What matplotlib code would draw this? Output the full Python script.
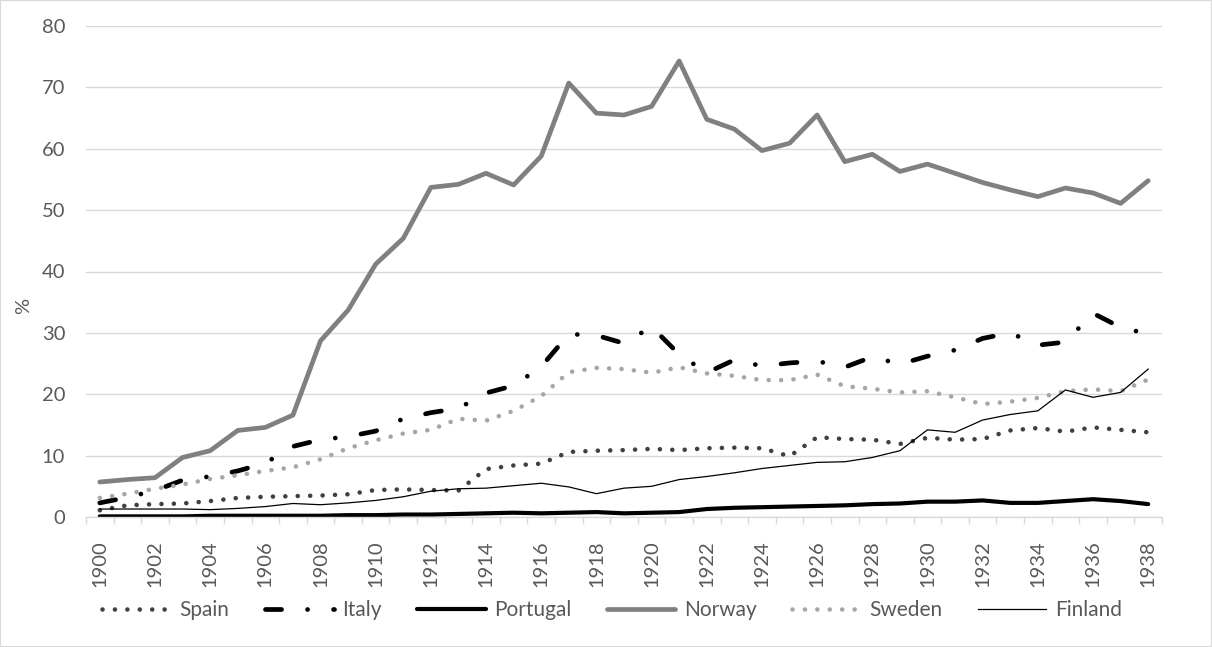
import numpy as np
import matplotlib.pyplot as plt
from matplotlib.patches import Rectangle

plt.rcParams['font.family'] = ['Lato', 'DejaVu Sans']

years = list(range(1900, 1939))

spain = [1.1, 1.9, 2.1, 2.2, 2.6, 3.1, 3.3, 3.4, 3.5, 3.7, 4.4, 4.5, 4.4, 4.3,
         7.8, 8.4, 8.7, 10.6, 10.8, 10.9, 11.1, 10.9, 11.2, 11.3, 11.2, 9.9, 13.0,
         12.7, 12.6, 11.9, 12.9, 12.6, 12.7, 14.1, 14.5, 13.9, 14.6, 14.2, 13.8]
italy = [2.3, 3.2, 4.3, 6.0, 6.6, 7.5, 8.8, 11.5, 12.6, 13.1, 14.0, 16.0, 17.0, 17.7,
         20.2, 21.4, 24.5, 29.8, 29.6, 28.3, 31.0, 26.5, 23.5, 25.6, 24.6, 25.1, 25.4,
         24.4, 26.1, 24.9, 26.2, 27.2, 29.1, 30.0, 28.0, 28.5, 33.2, 30.9, 29.8]
portugal = [0.1, 0.1, 0.1, 0.1, 0.2, 0.2, 0.2, 0.2, 0.2, 0.3, 0.3, 0.4, 0.4, 0.5,
            0.6, 0.7, 0.6, 0.7, 0.8, 0.6, 0.7, 0.8, 1.3, 1.5, 1.6, 1.7, 1.8,
            1.9, 2.1, 2.2, 2.5, 2.5, 2.7, 2.3, 2.3, 2.6, 2.9, 2.6, 2.1]
norway = [5.7, 6.1, 6.4, 9.7, 10.8, 14.1, 14.6, 16.6, 28.7, 33.7, 41.2, 45.4, 53.7, 54.2,
          56.0, 54.1, 58.8, 70.7, 65.8, 65.5, 66.9, 74.3, 64.8, 63.2, 59.7, 60.9, 65.5,
          57.9, 59.1, 56.3, 57.5, 56.0, 54.5, 53.3, 52.2, 53.6, 52.8, 51.1, 54.8]
sweden = [3.1, 3.8, 4.6, 5.3, 6.2, 6.8, 7.5, 8.1, 9.4, 11.2, 12.5, 13.6, 14.2, 16.0,
          15.7, 17.3, 19.7, 23.6, 24.3, 24.1, 23.5, 24.4, 23.4, 23.0, 22.3, 22.3, 23.2,
          21.3, 20.9, 20.3, 20.5, 19.5, 18.4, 18.8, 19.4, 20.5, 20.8, 20.5, 22.4]
finland = [1.3, 1.3, 1.3, 1.3, 1.2, 1.4, 1.7, 2.2, 2.0, 2.3, 2.7, 3.3, 4.2, 4.6,
           4.7, 5.1, 5.5, 4.9, 3.8, 4.7, 5.0, 6.1, 6.6, 7.2, 7.9, 8.4, 8.9,
           9.0, 9.7, 10.8, 14.2, 13.8, 15.8, 16.7, 17.3, 20.7, 19.5, 20.3, 24.1]

fig = plt.figure(figsize=(12.12, 6.47), dpi=100)
ax = fig.add_axes([86 / 1212, 130 / 647, 1076 / 1212, 491 / 647])

# dotted / dash-dot series use round caps so the dots come out round
ax.plot(years, spain, color='#404040', lw=3.3, linestyle=(0, (0.01, 2.7)),
        dash_capstyle='round', label='Spain')
ax.plot(years, italy, color='black', lw=3.4, linestyle=(0, (3.4, 5.5, 0.01, 5.5)),
        dash_capstyle='round', solid_joinstyle='round', label='Italy')
ax.plot(years, portugal, color='black', lw=3, solid_capstyle='round', label='Portugal')
ax.plot(years, norway, color='#808080', lw=3.4, solid_capstyle='round',
        solid_joinstyle='round', label='Norway')
ax.plot(years, sweden, color='#a6a6a6', lw=3.3, linestyle=(0, (0.01, 2.7)),
        dash_capstyle='round', label='Sweden')
ax.plot(years, finland, color='black', lw=0.9, label='Finland')

ax.set_xlim(1899.5, 1938.5)
ax.set_ylim(0, 80)
ax.set_yticks(np.arange(0, 81, 10))
ax.set_xticks(years[::2])
ax.set_xticks(np.arange(1899.5, 1939, 1), minor=True)
ax.tick_params(axis='x', which='major', length=0, pad=17, rotation=90,
               labelsize=14.5, labelcolor='#595959')
ax.tick_params(axis='x', which='minor', length=5, color='#d9d9d9', width=1)
ax.tick_params(axis='y', length=0, pad=15, labelsize=14.5, labelcolor='#595959')

ax.grid(axis='y', color='#d9d9d9', lw=1)
ax.set_axisbelow(True)
for s in ['top', 'right', 'left']:
    ax.spines[s].set_visible(False)
ax.spines['bottom'].set_color('#d9d9d9')
ax.spines['bottom'].set_linewidth(1)

ax.set_ylabel('%', fontsize=14.5, color='#595959')
ax.yaxis.set_label_coords(-0.05, 0.43)

fig.legend(loc='center', bbox_to_anchor=(0.505, 0.057), ncol=6, frameon=False,
           fontsize=15, labelcolor='#595959', handlelength=3.3,
           handletextpad=0.4, columnspacing=1.7)

fig.patches.append(Rectangle((0, 0), 1, 1, transform=fig.transFigure, fill=False,
                             edgecolor='#d9d9d9', lw=1.5))

fig.savefig('out.png', dpi=100)
